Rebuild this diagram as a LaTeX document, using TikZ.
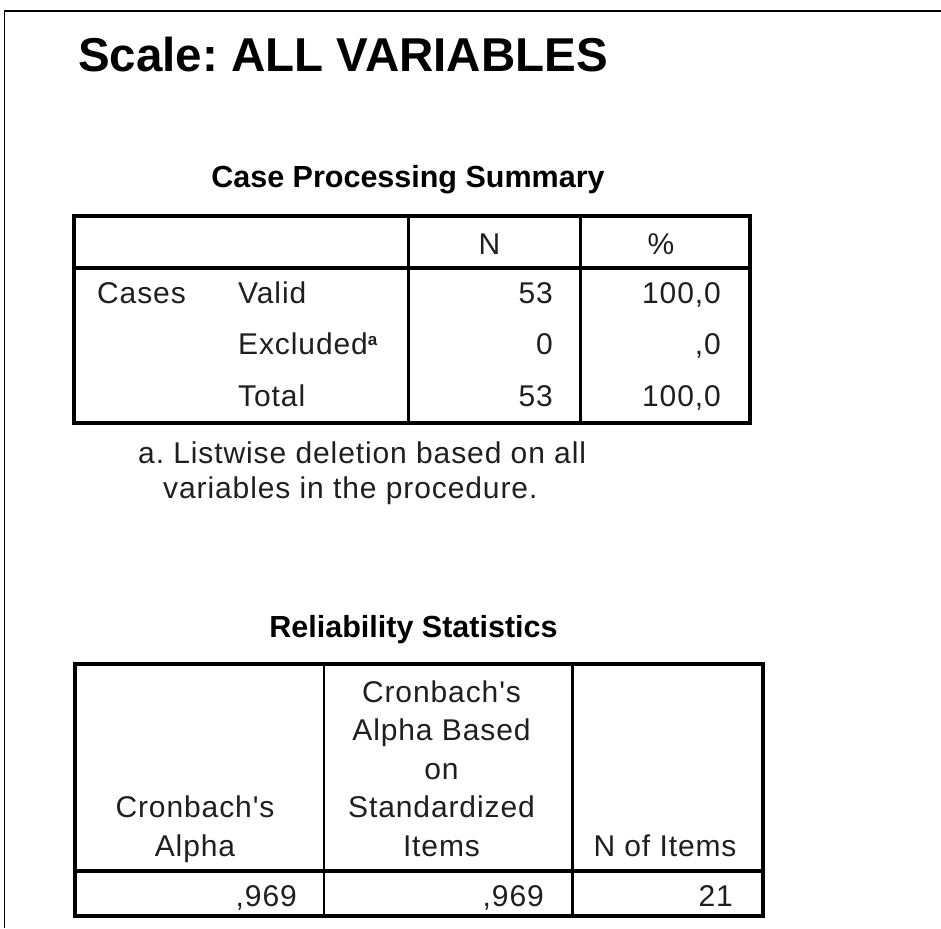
\documentclass[tikz,border=0pt]{standalone}
\usepackage{fontspec}
\setmainfont{Liberation Sans}
\newfontfamily\spss[LetterSpace=3]{Liberation Sans}
\frenchspacing
\begin{document}
\begin{tikzpicture}[x=1pt,y=-1pt,
  cell/.style={font=\spss\fontsize{30}{32}\selectfont, inner sep=0pt, text=black!88},
  heading/.style={font=\bfseries\fontsize{30.5}{32}\selectfont, inner sep=0pt},
  outerbox/.style={line width=4pt},
  sepline/.style={line width=4pt},
  colline/.style={line width=2.7pt},
]
\useasboundingbox (0,0) rectangle (941,928);
\fill[white] (0,0) rectangle (941,928);
\draw[line width=1.5pt] (4.5,928) -- (4.5,11) -- (941,11);

\node[inner sep=0pt, anchor=base west, font=\bfseries\fontsize{47.5}{49}\selectfont] (title) at (78,72) {Scale: ALL VARIABLES};

% Table 1
\node[heading, anchor=base] (cps) at (408,187) {Case Processing Summary};
\draw[outerbox] (74,216) rectangle (750,423);
\draw[sepline] (74,268) -- (750,268);
\draw[colline, line width=3.2pt] (408.5,216) -- (408.5,423);
\draw[colline] (580.5,216) -- (580.5,423);

\node[cell, anchor=base] (hN) at (489.5,254) {N};
\node[cell, anchor=base] (hP) at (661,254) {\%};

\node[cell, anchor=base west] (cases) at (97,303) {Cases};
\node[cell, anchor=base west] (valid) at (238,303) {Valid};
\node[cell, anchor=base west] (excl) at (238,354.7) {Excluded\raisebox{9pt}{\fontsize{17}{17}\selectfont\bfseries a}};
\node[cell, anchor=base west] (total) at (238,406.4) {Total};

\node[cell, anchor=base east] (n1) at (553,303) {53};
\node[cell, anchor=base east] (n2) at (553,354.7) {0};
\node[cell, anchor=base east] (n3) at (553,406.4) {53};
\node[cell, anchor=base east] (p1) at (721,303) {100,0};
\node[cell, anchor=base east] (p2) at (721,354.7) {,0};
\node[cell, anchor=base east] (p3) at (721,406.4) {100,0};

\node[cell, anchor=base west] (fn1) at (138,463) {a. Listwise deletion based on all};
\node[cell, anchor=base west] (fn2) at (163,498) {variables in the procedure.};

% Table 2
\node[heading, anchor=base] (rs) at (413.5,637) {Reliability Statistics};
\draw[outerbox] (74.5,664) rectangle (763,916);
\draw[sepline] (74.5,870.5) -- (763,870.5);
\draw[colline] (324,664) -- (324,916);
\draw[colline] (572.5,664) -- (572.5,916);

\node[cell, anchor=base] (a1) at (195,817.5) {Cronbach's};
\node[cell, anchor=base] (a2) at (195,856) {Alpha};
\node[cell, anchor=base] (b1) at (441.5,702) {Cronbach's};
\node[cell, anchor=base] (b2) at (441.5,740.5) {Alpha Based};
\node[cell, anchor=base] (b3) at (441.5,779) {on};
\node[cell, anchor=base] (b4) at (441.5,817.5) {Standardized};
\node[cell, anchor=base] (b5) at (441.5,856) {Items};
\node[cell, anchor=base] (c1) at (665,856) {N of Items};

\node[cell, anchor=base east] (v1) at (297,906) {,969};
\node[cell, anchor=base east] (v2) at (544,906) {,969};
\node[cell, anchor=base east] (v3) at (733,906) {21};
\end{tikzpicture}
\end{document}
